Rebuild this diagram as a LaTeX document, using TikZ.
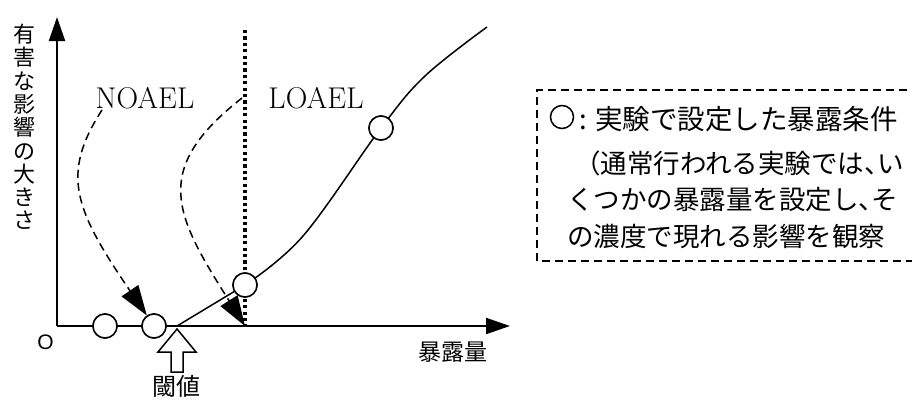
\documentclass[tikz,border=0pt]{standalone}
\usepackage{fontspec}
\newfontfamily\jp{Noto Sans CJK JP}
\newfontfamily\lsans{Liberation Sans}
\usetikzlibrary{arrows.meta}
\newcommand{\hten}{\makebox[0.5em][l]{、}}
\begin{document}
\begin{tikzpicture}[x=1pt,y=-1pt,
  axis/.style={line width=2pt,-{Triangle[length=24pt,width=16pt]}},
  curveline/.style={line width=1.5pt},
  dasharrow/.style={line width=1.5pt,dash pattern=on 8pt off 5pt,-{Triangle[length=30pt,width=20pt]}},
  dotline/.style={line width=3.5pt,dash pattern=on 3.2pt off 3.2pt},
  pt/.style={circle,draw,line width=1.5pt,fill=white,minimum size=24pt,inner sep=0pt},
  jlabel/.style={inner sep=0pt},
  boxtext/.style={font=\jp\fontsize{26.5}{30}\selectfont,inner sep=0pt,anchor=west},
  latin/.style={font=\fontsize{30}{36}\selectfont,inner sep=0pt,anchor=base}
]
\useasboundingbox (0,0) rectangle (912,399);
% axes
\coordinate (o) at (57,326);
\coordinate (ytop) at (57,17);
\coordinate (xend) at (510,326);
\draw[axis] (o) -- (ytop);
\draw[axis] (o) -- (xend);
% dotted line
\coordinate (dtop) at (245,30);
\coordinate (dbot) at (245,326);
\draw[dotline] (dtop) -- (dbot);
% threshold and response curve
\coordinate (th) at (177,326);
\coordinate (q1) at (303,236);
\coordinate (q3) at (425,76);
\coordinate (cend) at (487,27);
\node[pt] (c1) at (105,326) {};
\node[pt] (c2) at (154,326) {};
\node[pt] (c3) at (245,285) {};
\node[pt] (c4) at (381,128) {};
\draw[curveline] (th) -- (c3.center);
\draw[curveline] plot[smooth,tension=0.6] coordinates {(c3.center) (q1) (c4.center) (q3) (cend)};
% redraw points on top
\node[pt] at (c3.center) {};
\node[pt] at (c4.center) {};
\node[pt] at (c1.center) {};
\node[pt] at (c2.center) {};
% labels
\node[latin] (noael) at (145,108) {NOAEL};
\node[latin] (loael) at (316,108) {LOAEL};
% dashed arrows
\coordinate (ns) at (102,110);
\coordinate (ls) at (242,98);
\draw[dasharrow] (ns) .. controls (60,175) and (75,210) .. (c2);
\draw[dasharrow] (ls) .. controls (150,170) and (175,215) .. (dbot);
% threshold arrow
\draw[line width=1.5pt,fill=white] (177,329) -- (196,352) -- (183,352) -- (183,372) -- (171,372) -- (171,352) -- (158,352) -- cycle;
% texts
\node[jlabel,font=\lsans\fontsize{21}{21}\selectfont] (zero) at (45.5,342.5) {O};
\node[jlabel,font=\jp\fontsize{23}{24}\selectfont] (xlab) at (453,352) {暴露量};
\node[jlabel,font=\jp\fontsize{24}{24}\selectfont] (thlab) at (176,386) {閾値};
\node[jlabel,align=center,font=\jp\fontsize{22}{23.3}\selectfont] (ylab) at (24,127) {有\\害\\な\\影\\響\\の\\大\\き\\さ};
% legend box
\draw[line width=1.5pt,dash pattern=on 8pt off 5pt] (920,90) -- (537,90) -- (537,261) -- (920,261);
\node[circle,draw,line width=1.5pt,minimum size=23pt,inner sep=0pt] (lc) at (562,117) {};
\node[boxtext,font=\jp\fontsize{27.5}{30}\selectfont] (l1) at (579,119) {: 実験で設定した暴露条件};
\node[boxtext] (l2) at (574,163) {（通常行われる実験では\hten い};
\node[boxtext] (l3) at (567,199) {くつかの暴露量を設定し\hten そ};
\node[boxtext] (l4) at (567,236) {の濃度で現れる影響を観察};
\end{tikzpicture}
\end{document}
